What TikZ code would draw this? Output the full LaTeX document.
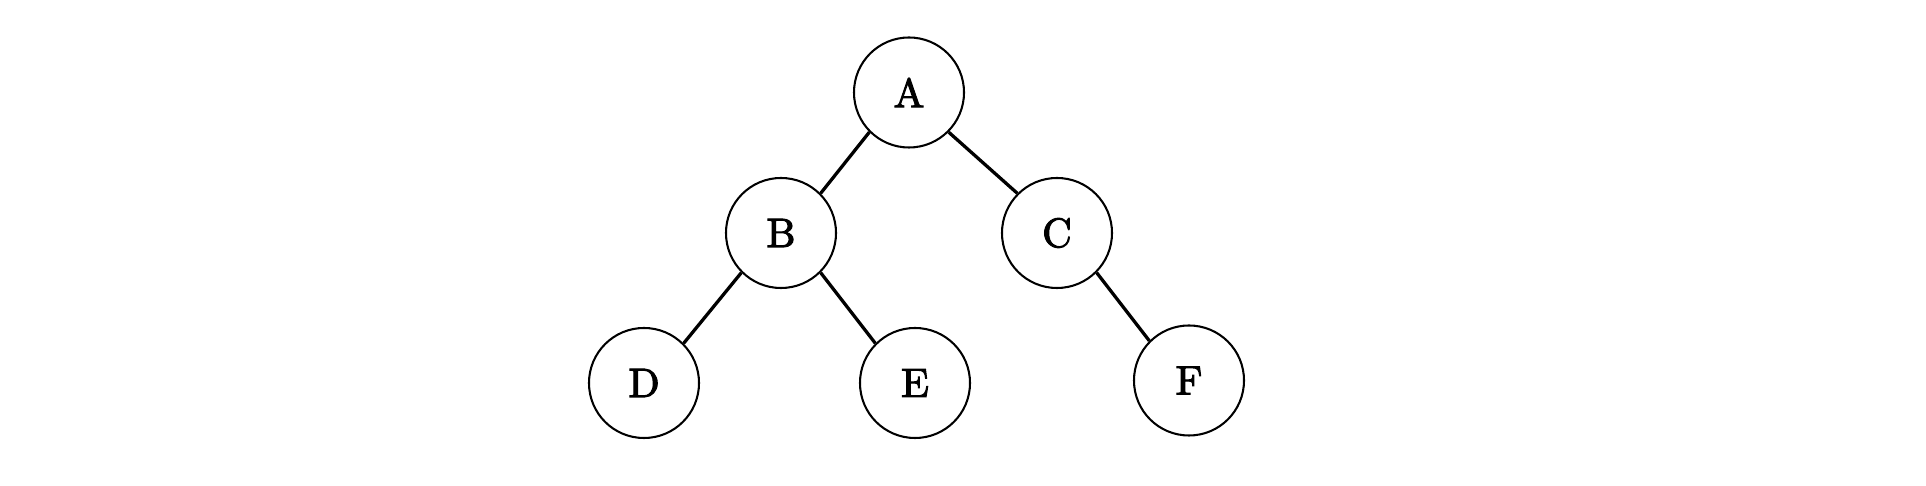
\documentclass[tikz,border=0pt]{standalone}
\usepackage{fontspec}
\newfontfamily\labelfont{Latin Modern Roman}[FakeBold=2.5]
\usepackage{tikz}

\begin{document}
\begin{tikzpicture}[x={(0.857cm,0)}, y={(0,-0.857cm)},
    vertex/.style={draw, circle, line width=0.5pt, minimum size=0.943cm, inner sep=0pt, font=\labelfont},
    branch/.style={line width=0.8pt}]
  \useasboundingbox (0,0) rectangle (19.26,4.86);
  % the tree
  \node [vertex] (A) at (9.09,0.925) {A};
  \node [vertex] (B) at (7.81,2.33) {B};
  \node [vertex] (C) at (10.57,2.33) {C};
  \node [vertex] (D) at (6.44,3.83) {D};
  \node [vertex] (E) at (9.15,3.83) {E};
  \node [vertex] (F) at (11.89,3.805) {F};
  \path [draw, branch] (A.south west) -- (B.north east) (A.south east) -- (C.north west);
  \path [draw, branch] (B.south west) -- (D.north east) (B.south east) -- (E.north west)
    (C.south east) -- (F.north west);
\end{tikzpicture}
\end{document}
